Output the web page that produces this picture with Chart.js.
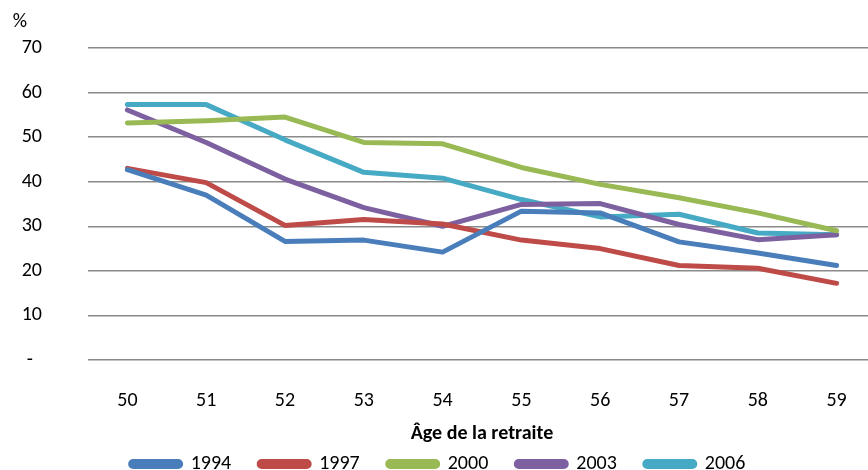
<!DOCTYPE html>
<html>
<head>
<meta charset="utf-8">
<script src="https://cdn.jsdelivr.net/npm/chart.js@4.4.1/dist/chart.umd.min.js"></script>
<style>
  html, body { margin: 0; padding: 0; background: #fff; overflow: hidden; }
  #wrap { width: 880px; height: 470px; }
</style>
</head>
<body>
<div id="wrap"><canvas id="retraiteChart"></canvas></div>
<script>
  const ages = ['50', '51', '52', '53', '54', '55', '56', '57', '58', '59'];
  const s1994 = [42.7, 37.0, 26.6, 26.9, 24.2, 33.4, 33.0, 26.5, 24.0, 21.2];
  const s1997 = [43.0, 39.8, 30.2, 31.5, 30.5, 26.9, 25.0, 21.2, 20.6, 17.2];
  const s2000 = [53.2, 53.7, 54.5, 48.8, 48.5, 43.2, 39.4, 36.4, 33.0, 29.0];
  const s2003 = [56.1, 48.8, 40.6, 34.2, 30.0, 34.9, 35.1, 30.4, 27.0, 28.1];
  const s2006 = [57.3, 57.3, 49.4, 42.1, 40.8, 36.0, 32.1, 32.7, 28.5, 28.1];
  const yTicks = [0, 10, 20, 30, 40, 50, 60, 70];

  const FONT = "Carlito, 'Liberation Sans', sans-serif";

  function serie(label, data, color) {
    return {
      label: label,
      data: data,
      borderColor: color,
      backgroundColor: color,
      borderWidth: 5,
      pointRadius: 0,
      tension: 0,
      borderCapStyle: 'round',
      borderJoinStyle: 'round'
    };
  }

  // "%" au-dessus des étiquettes de l'axe vertical
  const percentLabel = {
    id: 'percentLabel',
    afterDraw(chart) {
      const ctx = chart.ctx;
      const y = chart.scales.y;
      ctx.save();
      ctx.font = '20px ' + FONT;
      ctx.fillStyle = '#000';
      ctx.textAlign = 'center';
      ctx.textBaseline = 'middle';
      ctx.fillText('%', 20, y.getPixelForValue(70) - 26);
      ctx.restore();
    }
  };

  const ctx = document.getElementById('retraiteChart').getContext('2d');
  new Chart(ctx, {
    type: 'line',
    data: {
      labels: ages,
      datasets: [
        serie('1994', s1994, '#4A7EBB'),
        serie('1997', s1997, '#BE4B48'),
        serie('2000', s2000, '#98B954'),
        serie('2003', s2003, '#7D60A0'),
        serie('2006', s2006, '#46AAC5')
      ]
    },
    options: {
      responsive: true,
      maintainAspectRatio: false,
      animation: false,
      layout: { padding: { top: 48, right: 4, left: 0, bottom: -14 } },
      scales: {
        y: {
          min: 0,
          max: 70,
          afterBuildTicks: (scale) => { scale.ticks = yTicks.map((v) => ({ value: v })); },
          afterFit: (scale) => { scale.width = 88; },
          grid: {
            color: '#8a8a8a',
            lineWidth: 1.5,
            drawTicks: true,
            tickLength: 45,
            tickColor: 'rgba(0,0,0,0)'
          },
          border: { display: false },
          ticks: {
            padding: 1,
            color: '#000',
            font: { family: FONT, size: 20 },
            callback: (v) => (v === 0 ? '-  ' : v)
          }
        },
        x: {
          offset: true,
          afterFit: (scale) => { scale.height = 66; },
          grid: { display: false, drawTicks: false },
          border: { display: false },
          ticks: {
            padding: 29,
            color: '#000',
            font: { family: FONT, size: 20 },
            maxRotation: 0
          },
          title: {
            display: true,
            text: 'Âge de la retraite',
            color: '#000',
            font: { family: FONT, size: 20, weight: 'bold' },
            padding: { top: 8, bottom: -20 }
          }
        }
      },
      plugins: {
        legend: {
          position: 'bottom',
          labels: {
            boxWidth: 50,
            boxHeight: 5,
            useBorderRadius: true,
            borderRadius: 2.5,
            padding: 28,
            color: '#000',
            font: { family: FONT, size: 20 }
          }
        },
        tooltip: { enabled: false }
      }
    },
    plugins: [percentLabel]
  });
</script>
</body>
</html>
